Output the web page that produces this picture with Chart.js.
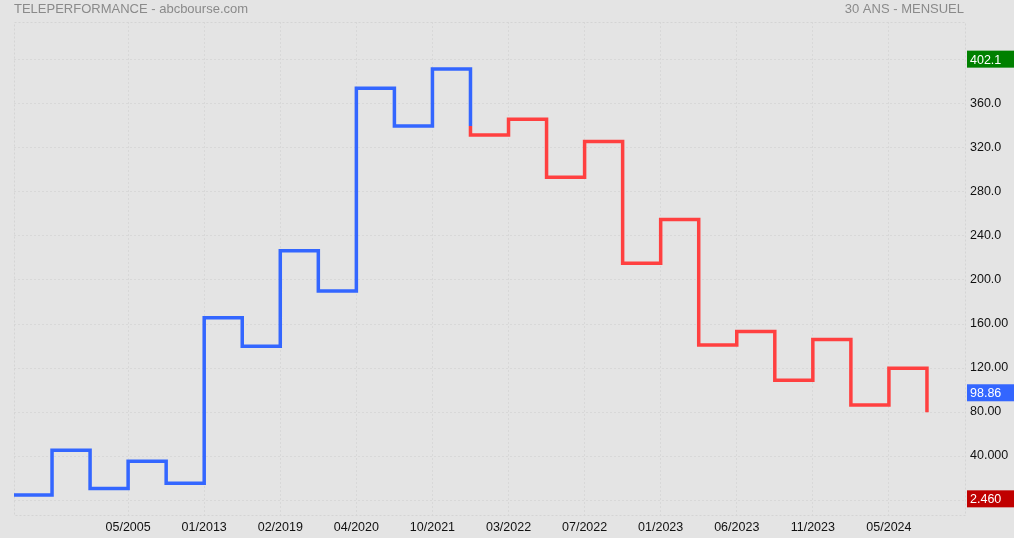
<!DOCTYPE html>
<html>
<head>
<meta charset="utf-8">
<script src="https://cdn.jsdelivr.net/npm/chart.js@4/dist/chart.umd.min.js"></script>
<style>
  html, body { margin: 0; padding: 0; background: #e4e4e4; overflow: hidden; }
  #wrap { width: 1014px; height: 538px; position: relative; }
</style>
</head>
<body>
<div id="wrap"><canvas id="kagi" width="1014" height="538"></canvas></div>
<script>
// Niveaux horizontaux du graphique Kagi (une colonne par niveau)
const levels = [4.5, 45.2, 10.6, 35.2, 15.2, 165.7, 139.7, 226.6, 190.0, 374.3, 340.0, 391.8,
  331.8, 346.0, 293.4, 325.8, 215.2, 255.0, 141.0, 153.3, 108.8, 146.0, 86.4, 119.7];
const lastLevel = 79.7;

// Axe X : étiquettes aux limites de colonnes
const xTickPositions = [3, 5, 7, 9, 11, 13, 15, 17, 19, 21, 23];
const xTickLabels = ['05/2005', '01/2013', '02/2019', '04/2020', '10/2021', '03/2022',
  '07/2022', '01/2023', '06/2023', '11/2023', '05/2024'];

// Axe Y
const yTickValues = [0, 40, 80, 120, 160, 200, 240, 280, 320, 360, 400];
const yTickLabels = ['', '40.000', '80.00', '120.00', '160.00', '200.0', '240.0', '280.0', '320.0', '360.0', ''];

// Étiquettes de prix à droite
const priceTags = [
  { value: 402.1, text: '402.1', color: '#008000' },
  { value: 98.86, text: '98.86', color: '#3366ff' },
  { value: 2.46, text: '2.460', color: '#c00000' }
];

const YANG = '#3366ff';
const YIN = '#ff4040';

// Construit les points et la couleur de chaque segment (règle Kagi : épaule / taille)
function buildKagi() {
  const all = levels.concat([lastLevel]);
  const pts = [{ x: 0, y: all[0] }];
  const cols = [];
  let trend = 'yang';
  let lastPeak = null;
  let lastTrough = all[0];
  for (let i = 1; i < all.length; i++) {
    const prev = all[i - 1];
    const cur = all[i];
    if (cur < prev && trend === 'yang' && lastTrough !== null && cur < lastTrough) {
      pts.push({ x: i, y: lastTrough });
      cols.push(trend);
      trend = 'yin';
    } else if (cur > prev && trend === 'yin' && lastPeak !== null && cur > lastPeak) {
      pts.push({ x: i, y: lastPeak });
      cols.push(trend);
      trend = 'yang';
    }
    pts.push({ x: i, y: cur });
    cols.push(trend);
    if (cur > prev) lastPeak = cur; else lastTrough = cur;
  }
  return { pts, cols };
}

const kagi = buildKagi();

const framePlugin = {
  id: 'frame',
  beforeDatasetsDraw(chart) {
    const { ctx, chartArea: a } = chart;
    ctx.save();
    ctx.strokeStyle = '#d4d4d4';
    ctx.lineWidth = 1;
    ctx.setLineDash([2, 2]);
    ctx.strokeRect(a.left + 0.5, a.top + 0.5, a.right - a.left, a.bottom - a.top);
    ctx.restore();
  },
  afterDraw(chart) {
    const { ctx, chartArea: a, scales } = chart;
    ctx.save();
    ctx.font = '13px "Liberation Sans", Arial, sans-serif';
    ctx.fillStyle = '#8a8a8a';
    ctx.textBaseline = 'middle';
    ctx.textAlign = 'left';
    ctx.fillText('TELEPERFORMANCE - abcbourse.com', 14, 9);
    ctx.textAlign = 'right';
    ctx.fillText('30 ANS - MENSUEL', 964, 9);

    ctx.font = '12.5px "Liberation Sans", Arial, sans-serif';
    ctx.textAlign = 'left';
    priceTags.forEach(t => {
      const y = scales.y.getPixelForValue(t.value) + 1.5;
      ctx.fillStyle = t.color;
      ctx.fillRect(a.right + 2, y - 8.5, 1014 - a.right - 2, 17);
      ctx.fillStyle = '#ffffff';
      ctx.fillText(t.text, a.right + 5, y + 1);
    });
    ctx.restore();
  }
};

new Chart(document.getElementById('kagi'), {
  type: 'line',
  data: {
    datasets: [{
      data: kagi.pts,
      stepped: 'before',
      borderWidth: 3.5,
      borderColor: YANG,
      pointRadius: 0,
      fill: false,
      borderCapStyle: 'butt',
      borderJoinStyle: 'miter',
      segment: {
        borderColor: c => kagi.cols[c.p0DataIndex] === 'yin' ? YIN : YANG
      }
    }]
  },
  options: {
    responsive: false,
    animation: false,
    devicePixelRatio: 1,
    layout: { padding: { left: 14, top: 22, right: 0, bottom: 0 } },
    plugins: { legend: { display: false }, tooltip: { enabled: false } },
    scales: {
      x: {
        type: 'linear',
        min: 0,
        max: 25,
        afterBuildTicks: s => { s.ticks = xTickPositions.map(v => ({ value: v })); },
        afterFit: s => { s.height = 23; },
        ticks: {
          color: '#111',
          padding: 5,
          maxRotation: 0,
          autoSkip: false,
          font: { size: 12.5, family: '"Liberation Sans", Arial, sans-serif' },
          callback: (v) => xTickLabels[xTickPositions.indexOf(v)]
        },
        grid: { color: '#d8d8d8', drawTicks: false },
        border: { display: false, dash: [2, 2] }
      },
      y: {
        position: 'right',
        min: -13.6,
        max: 434.5,
        afterBuildTicks: s => { s.ticks = yTickValues.map(v => ({ value: v })); },
        afterFit: s => { s.width = 49; },
        ticks: {
          color: '#111',
          padding: 5,
          font: { size: 12.5, family: '"Liberation Sans", Arial, sans-serif' },
          callback: (v) => yTickLabels[yTickValues.indexOf(v)]
        },
        grid: { color: '#d8d8d8', drawTicks: false },
        border: { display: false, dash: [2, 2] }
      }
    }
  },
  plugins: [framePlugin]
});
</script>
</body>
</html>
